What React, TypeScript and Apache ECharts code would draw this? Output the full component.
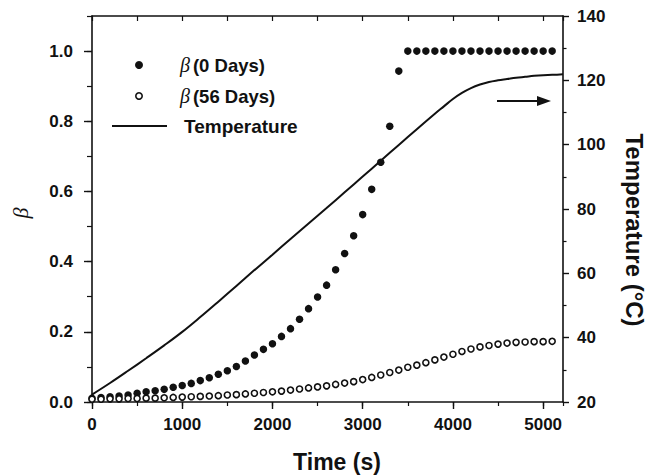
import React, { useEffect, useRef } from "react";
import * as echarts from "echarts";

// Sampling times of the β measurements (s)
const betaTimes = [
  0, 100, 200, 300, 400, 500, 600, 700, 800, 900,
  1000, 1100, 1200, 1300, 1400, 1500, 1600, 1700, 1800, 1900,
  2000, 2100, 2200, 2300, 2400, 2500, 2600, 2700, 2800, 2900,
  3000, 3100, 3200, 3300, 3400, 3500, 3600, 3700, 3800, 3900,
  4000, 4100, 4200, 4300, 4400, 4500, 4600, 4700, 4800, 4900,
  5000, 5100,
];

// β (0 Days)
const beta0Days = [
  0.011, 0.013, 0.015, 0.017, 0.02, 0.025, 0.029, 0.032, 0.036, 0.042,
  0.047, 0.053, 0.061, 0.069, 0.079, 0.089, 0.101, 0.117, 0.134, 0.15,
  0.166, 0.187, 0.209, 0.236, 0.266, 0.299, 0.333, 0.377, 0.423, 0.474,
  0.534, 0.606, 0.683, 0.786, 0.943, 1.0, 1.0, 1.0, 1.0, 1.0,
  1.0, 1.0, 1.0, 1.0, 1.0, 1.0, 1.0, 1.0, 1.0, 1.0,
  1.0, 1.0,
];

// β (56 Days)
const beta56Days = [
  0.008, 0.008, 0.009, 0.009, 0.01, 0.01, 0.011, 0.011, 0.012, 0.013,
  0.014, 0.015, 0.016, 0.017, 0.018, 0.02, 0.021, 0.023, 0.025, 0.027,
  0.029, 0.031, 0.034, 0.037, 0.04, 0.043, 0.046, 0.05, 0.054, 0.058,
  0.064, 0.07, 0.077, 0.084, 0.091, 0.099, 0.105, 0.112, 0.12, 0.128,
  0.136, 0.144, 0.151, 0.157, 0.161, 0.165, 0.168, 0.17, 0.171, 0.172,
  0.172, 0.173,
];

// Temperature curve
const tempTimes = [
  0, 200, 400, 600, 800, 1000, 1200, 1400, 1600, 1800,
  2000, 2200, 2400, 2600, 2800, 3000, 3200, 3400, 3600, 3800,
  3900, 4000, 4100, 4200, 4300, 4400, 4500, 4600, 4700, 4800,
  4900, 5000, 5100, 5220,
];
const tempValues = [
  22.3, 25.9, 29.7, 33.6, 37.6, 41.8, 46.4, 51.2, 56.1, 61.0,
  65.8, 70.7, 75.5, 80.3, 85.2, 90.1, 95.0, 99.9, 104.8, 109.6,
  111.9, 114.2, 116.1, 117.6, 118.7, 119.5, 120.0, 120.4, 120.8, 121.1,
  121.4, 121.6, 121.7, 121.9,
];

const xMin = 0;
const xMax = 5220;
const betaMin = 0;
const betaMax = 1.1;
const tempMin = 20;
const tempMax = 140;

const INK = "#111111";
const SANS = "'Liberation Sans', Arial, sans-serif";
const SERIF = "'Liberation Serif', 'Times New Roman', serif";

export default function App() {
  const ref = useRef<HTMLDivElement>(null);

  useEffect(() => {
    if (!ref.current) return;
    document.body.style.margin = "0";
    const chart = echarts.init(ref.current, undefined, { renderer: "svg" });

    const labelStyle = {
      color: INK,
      fontFamily: SANS,
      fontWeight: "bold" as const,
      fontSize: 17,
    };

    const legendRich = {
      b: { fontFamily: SERIF, fontStyle: "italic", fontSize: 20, fill: INK, padding: [0, 3, 0, 0] },
      t: { fontFamily: SANS, fontWeight: "bold", fontSize: 18.5, fill: INK },
    };

    const option: any = {
      animation: false,
      backgroundColor: "#ffffff",
      grid: { left: 92, right: 84, top: 16, bottom: 74, containLabel: false },
      xAxis: [
        {
          type: "value",
          position: "bottom",
          min: xMin,
          max: xMax,
          interval: 1000,
          axisLine: { show: true, onZero: false, lineStyle: { color: INK, width: 1.6 } },
          axisTick: { show: true, inside: false, length: 7, lineStyle: { color: INK, width: 1.4 } },
          axisLabel: {
            ...labelStyle,
            margin: 14,
            showMaxLabel: false,
            formatter: (v: number) => (v % 1000 === 0 ? String(v) : ""),
          },
          splitLine: { show: false },
        },
        {
          type: "value",
          position: "bottom",
          min: xMin,
          max: xMax,
          interval: 500,
          axisLine: { show: false, onZero: false },
          axisTick: { show: true, inside: false, length: 4, lineStyle: { color: INK, width: 1.2 } },
          axisLabel: { show: false },
          splitLine: { show: false },
        },
        {
          type: "value",
          position: "top",
          min: xMin,
          max: xMax,
          interval: 500,
          axisLine: { show: true, onZero: false, lineStyle: { color: INK, width: 1.6 } },
          axisTick: { show: true, inside: true, length: 5, lineStyle: { color: INK, width: 1.2 } },
          axisLabel: { show: false },
          splitLine: { show: false },
        },
      ],
      yAxis: [
        {
          type: "value",
          position: "left",
          min: betaMin,
          max: betaMax,
          interval: 0.2,
          axisLine: { show: true, onZero: false, lineStyle: { color: INK, width: 1.6 } },
          axisTick: { show: true, inside: false, length: 8, lineStyle: { color: INK, width: 1.4 } },
          axisLabel: {
            ...labelStyle,
            margin: 19,
            showMaxLabel: false,
            formatter: (v: number) => (v > 1.05 ? "" : v.toFixed(1)),
          },
          splitLine: { show: false },
        },
        {
          type: "value",
          position: "left",
          min: betaMin,
          max: betaMax,
          interval: 0.1,
          axisLine: { show: false, onZero: false },
          axisTick: { show: true, inside: false, length: 5, lineStyle: { color: INK, width: 1.2 } },
          axisLabel: { show: false },
          splitLine: { show: false },
        },
        {
          type: "value",
          position: "right",
          min: tempMin,
          max: tempMax,
          interval: 20,
          axisLine: { show: true, onZero: false, lineStyle: { color: INK, width: 1.6 } },
          axisTick: { show: true, inside: false, length: 6, lineStyle: { color: INK, width: 1.4 } },
          minorTick: { show: true, splitNumber: 2, length: 3.5, lineStyle: { color: INK, width: 1.2 } },
          axisLabel: { ...labelStyle, margin: 14 },
          splitLine: { show: false },
        },
      ],
      series: [
        {
          name: "Temperature",
          type: "line",
          xAxisIndex: 0,
          yAxisIndex: 2,
          data: tempTimes.map((t, i) => [t, tempValues[i]]),
          showSymbol: false,
          symbol: "none",
          smooth: 0.4,
          lineStyle: { color: INK, width: 2 },
          z: 3,
        },
        {
          name: "β (0 Days)",
          type: "scatter",
          xAxisIndex: 0,
          yAxisIndex: 0,
          data: betaTimes.map((t, i) => [t, beta0Days[i]]),
          symbol: "circle",
          symbolSize: 7.5,
          itemStyle: { color: INK, opacity: 1 },
          z: 4,
        },
        {
          name: "β (56 Days)",
          type: "scatter",
          xAxisIndex: 0,
          yAxisIndex: 0,
          data: betaTimes.map((t, i) => [t, beta56Days[i]]),
          symbol: "circle",
          symbolSize: 6,
          itemStyle: { color: "#ffffff", borderColor: INK, borderWidth: 1.6, opacity: 1 },
          z: 4,
        },
      ],
      graphic: [
        // legend
        { type: "circle", shape: { cx: 139, cy: 65, r: 4 }, style: { fill: INK } },
        {
          type: "circle",
          shape: { cx: 139, cy: 96, r: 3.2 },
          style: { fill: "#fff", stroke: INK, lineWidth: 1.6 },
        },
        {
          type: "line",
          shape: { x1: 112, y1: 126, x2: 167, y2: 126 },
          style: { stroke: INK, lineWidth: 2 },
        },
        {
          type: "text",
          x: 180,
          y: 65,
          style: {
            text: "{b|β}{t|(0 Days)}",
            verticalAlign: "middle",
            align: "left",
            rich: legendRich,
          },
        },
        {
          type: "text",
          x: 180,
          y: 96,
          style: {
            text: "{b|β}{t|(56 Days)}",
            verticalAlign: "middle",
            align: "left",
            rich: legendRich,
          },
        },
        {
          type: "text",
          x: 184,
          y: 126,
          style: {
            text: "Temperature",
            verticalAlign: "middle",
            align: "left",
            fontFamily: SANS,
            fontWeight: "bold",
            fontSize: 19,
            fill: INK,
          },
        },
        // arrow pointing to the right axis
        {
          type: "line",
          shape: { x1: 497, y1: 101, x2: 541, y2: 101 },
          style: { stroke: INK, lineWidth: 2 },
        },
        {
          type: "polygon",
          shape: { points: [[537, 96], [551, 101], [537, 106]] },
          style: { fill: INK },
        },
        // axis titles
        {
          type: "text",
          x: 337,
          y: 462,
          style: {
            text: "Time (s)",
            align: "center",
            verticalAlign: "middle",
            fontFamily: SANS,
            fontWeight: "bold",
            fontSize: 23,
            fill: INK,
          },
        },
        {
          type: "text",
          x: 20,
          y: 213,
          rotation: Math.PI / 2,
          style: {
            text: "β",
            align: "center",
            verticalAlign: "middle",
            fontFamily: SERIF,
            fontStyle: "italic",
            fontSize: 22,
            fill: INK,
          },
        },
        {
          type: "text",
          x: 634,
          y: 230,
          rotation: -Math.PI / 2,
          style: {
            text: "Temperature (°C)",
            align: "center",
            verticalAlign: "middle",
            fontFamily: SANS,
            fontWeight: "bold",
            fontSize: 24,
            fill: INK,
          },
        },
      ],
    };

    chart.setOption(option);
    return () => {
      chart.dispose();
    };
  }, []);

  return (
    <div
      ref={ref}
      style={{ position: "absolute", left: 0, top: 0, width: 647, height: 476 }}
    />
  );
}
